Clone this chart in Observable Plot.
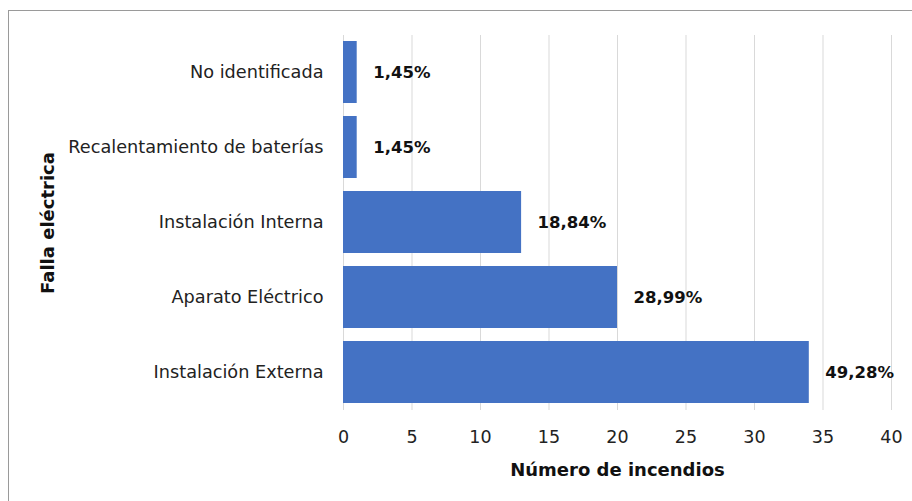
<!DOCTYPE html>
<html><head><meta charset="utf-8">
<script src="https://cdn.jsdelivr.net/npm/d3@7"></script>
<script src="https://cdn.jsdelivr.net/npm/@observablehq/plot@0.6"></script>
<style>
body{margin:0;background:#fff;}
#frame{position:absolute;left:8px;top:10px;width:920px;height:500px;border:1px solid #9a9a9a;box-sizing:border-box;}
#chart{position:absolute;left:0;top:0;}
</style>
</head><body>
<div id="frame"></div>
<div id="chart"></div>
<script>
const categories = ["No identificada","Recalentamiento de baterías","Instalación Interna","Aparato Eléctrico","Instalación Externa"];
const values = [1,1,13,20,34];
const labels = ["1,45%","1,45%","18,84%","28,99%","49,28%"];
const xTicks = [0,5,10,15,20,25,30,35,40];

const data = categories.map((c,i)=>({cat:c,value:values[i],label:labels[i]}));
const font = "DejaVu Sans, Verdana, sans-serif";

const plot = Plot.plot({
  width: 912, height: 501,
  marginLeft: 343, marginRight: 21, marginTop: 35, marginBottom: 91,
  style:{fontFamily:font, fontSize:"15px", color:"#222", background:"transparent"},
  x:{domain:[0,40], ticks:xTicks, label:null},
  y:{domain:categories, label:null, paddingInner:0.17, paddingOuter:0.085},
  marks:[
    Plot.gridX(xTicks,{stroke:"#d9d9d9", strokeOpacity:1}),
    Plot.barX(data,{y:"cat", x:"value", fill:"#4472C4"}),
    Plot.text(data,{y:"cat", x:"value", text:"label", textAnchor:"start", dx:16, fontWeight:"bold", fontSize:16.5, fill:"#111"}),
    Plot.axisX({ticks:xTicks, tickSize:0, tickPadding:20, fontSize:17.5, label:null}),
    Plot.axisY({tickSize:0, tickPadding:20, fontSize:17.7, label:null}),
    Plot.text(["Número de incendios"],{frameAnchor:"bottom", dy:65, fontWeight:"bold", fontSize:18, fill:"#111"}),
    Plot.text(["Falla eléctrica"],{frameAnchor:"left", textAnchor:"middle", dx:-295, rotate:-90, fontWeight:"bold", fontSize:18, fill:"#111"})
  ]
});
document.getElementById("chart").appendChild(plot);
</script>
</body></html>
